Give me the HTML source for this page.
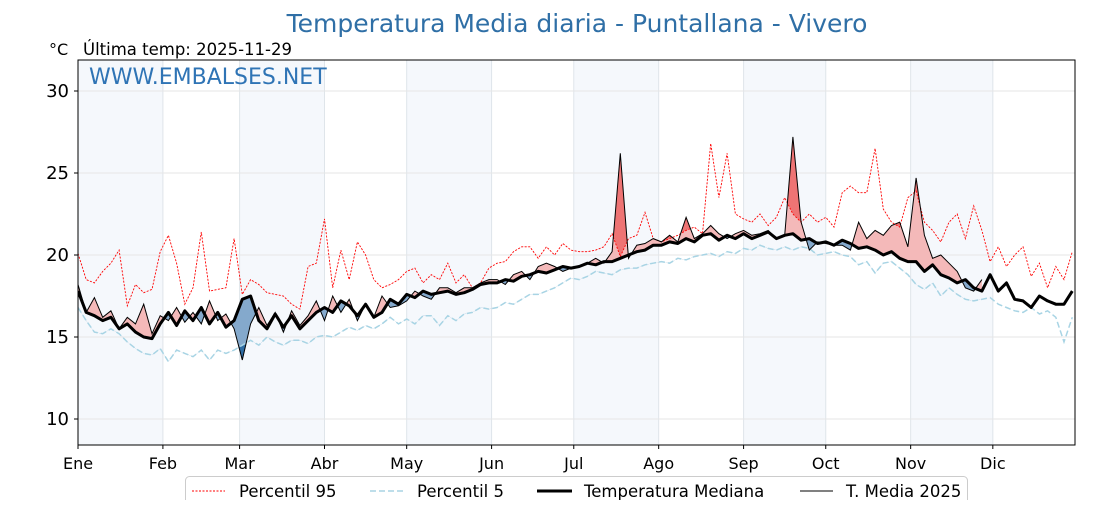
<!DOCTYPE html>
<html><head><meta charset="utf-8"><style>
body{margin:0;background:#fff;width:1120px;height:500px;overflow:hidden;font-family:"Liberation Sans","DejaVu Sans",sans-serif}
svg text{font-family:"DejaVu Sans","Liberation Sans",sans-serif}
</style></head><body>
<svg id="chart" width="1120" height="500" xmlns="http://www.w3.org/2000/svg">
<defs>
<clipPath id="plotClip"><rect x="78" y="60" width="997" height="385"/></clipPath>
<clipPath id="aboveMed"><path id="aboveMedP"/></clipPath>
<clipPath id="belowMed"><path id="belowMedP"/></clipPath>
<clipPath id="aboveP95"><path id="aboveP95P"/></clipPath>
<clipPath id="belowP5"><path id="belowP5P"/></clipPath>
</defs>
<g id="bands"></g>
<g id="grid"></g>
<g id="series" clip-path="url(#plotClip)"></g>
<rect x="78" y="60" width="997" height="385" fill="none" stroke="#000" stroke-width="1"/>
<g id="axes"></g>
<text x="577" y="32" text-anchor="middle" font-size="25" fill="#2f6fa6">Temperatura Media diaria - Puntallana - Vivero</text>
<text x="49" y="55" font-size="16" fill="#000">°C</text>
<text x="83" y="55" font-size="16.5" fill="#000">Última temp: 2025-11-29</text>
<text x="89" y="84" font-size="22" fill="#2f74b5">WWW.EMBALSES.NET</text>
<g>
<rect x="185.5" y="476.5" width="782" height="30" rx="4" fill="#fff" stroke="#ccc"/>
<line x1="192" y1="491" x2="225" y2="491" stroke="red" stroke-width="1" stroke-dasharray="2,1.5"/>
<text x="239" y="497" font-size="16.5">Percentil 95</text>
<line x1="370" y1="491" x2="405" y2="491" stroke="#a8d4e4" stroke-width="1.5" stroke-dasharray="6,3"/>
<text x="417" y="497" font-size="16.5">Percentil 5</text>
<line x1="537" y1="491" x2="572" y2="491" stroke="#000" stroke-width="3"/>
<text x="584" y="497" font-size="16.5">Temperatura Mediana</text>
<line x1="800" y1="491" x2="833" y2="491" stroke="#000" stroke-width="1"/>
<text x="846" y="497" font-size="16.5">T. Media 2025</text>
</g>
</svg>
<script>
const step = 3;
const monthLabels = ["Ene","Feb","Mar","Abr","May","Jun","Jul","Ago","Sep","Oct","Nov","Dic"];
const monthStarts = [0,31,59,90,120,151,181,212,243,273,304,334];
const yTicks = [10,15,20,25,30];
const median = [17.8,16.5,16.3,16.0,16.2,15.5,15.8,15.3,15.0,14.9,15.8,
16.5,15.7,16.6,16.0,16.8,15.8,16.5,15.6,16.0,
17.3,17.5,16.0,15.5,16.4,15.6,16.3,15.5,16.0,16.5,
16.8,16.5,17.2,16.9,16.3,17.0,16.2,16.5,17.3,17.0,
17.6,17.4,17.8,17.6,17.7,17.8,17.6,17.7,17.9,18.2,18.3,
18.3,18.5,18.4,18.7,18.8,19.0,18.9,19.1,19.3,19.2,
19.3,19.5,19.4,19.6,19.6,19.8,20.0,20.2,20.3,20.6,
20.6,20.8,20.7,21.0,20.8,21.2,21.3,20.9,21.2,21.0,
21.3,21.0,21.2,21.4,21.0,21.2,21.3,20.9,21.0,20.7,
20.8,20.6,20.9,20.7,20.4,20.5,20.3,20.0,20.2,19.8,19.6,
19.6,19.0,19.4,18.8,18.6,18.3,18.5,18.0,17.8,18.8,
17.8,18.3,17.3,17.2,16.8,17.5,17.2,17.0,17.0,17.8];
const p95 = [20.1,18.5,18.3,19.0,19.5,20.3,16.9,18.2,17.7,17.9,20.2,
21.2,19.5,17.0,18.0,21.4,17.8,17.9,18.0,21.0,
17.6,18.5,18.2,17.7,17.6,17.5,17.0,16.7,19.3,19.5,
22.2,18.0,20.3,18.5,20.8,20.0,18.5,18.0,18.2,18.5,
19.0,19.2,18.3,18.8,18.5,19.5,18.3,18.8,18.0,18.3,19.2,
19.5,19.6,20.2,20.5,20.5,19.8,20.5,20.0,20.7,20.3,
20.2,20.2,20.3,20.5,21.3,19.9,21.0,21.2,22.6,21.0,
20.8,21.0,21.2,21.5,21.7,21.3,26.8,23.5,26.2,22.5,
22.2,22.0,22.5,21.8,22.3,23.5,22.5,22.0,22.5,22.0,
22.3,21.7,23.8,24.2,23.8,23.8,26.5,22.8,22.0,21.7,23.5,
23.9,22.0,21.5,20.8,22.0,22.5,21.0,23.0,21.5,19.6,
20.5,19.3,20.0,20.5,18.7,19.5,18.0,19.3,18.5,20.2];
const p5 = [16.8,16.0,15.3,15.2,15.5,15.2,14.7,14.3,14.0,13.9,14.3,
13.5,14.2,14.0,13.8,14.2,13.6,14.2,14.0,14.2,
14.5,14.8,14.5,15.0,14.7,14.5,14.8,14.8,14.6,15.0,
15.1,15.0,15.3,15.6,15.4,15.7,15.5,15.8,16.2,15.8,
16.1,15.8,16.3,16.3,15.7,16.3,16.0,16.4,16.5,16.8,16.7,
16.8,17.1,17.0,17.3,17.6,17.6,17.8,18.0,18.3,18.6,
18.5,18.7,19.0,18.9,18.8,19.1,19.2,19.2,19.4,19.5,
19.6,19.5,19.8,19.7,19.9,20.0,20.1,19.9,20.2,20.1,
20.4,20.3,20.6,20.4,20.3,20.5,20.3,20.5,20.4,20.0,
20.1,20.2,20.0,19.9,19.4,19.6,18.9,19.5,19.6,19.2,18.8,
18.2,17.9,18.3,17.5,18.0,17.6,17.3,17.2,17.3,17.4,
17.0,16.8,16.6,16.5,16.8,16.4,16.6,16.2,14.7,16.2];
const t2025 = [18.2,16.5,17.4,16.2,16.6,15.5,16.2,15.8,17.0,15.2,16.3,
16.0,16.8,15.9,16.5,15.8,17.2,16.0,16.4,15.5,
13.6,15.8,16.8,15.7,16.5,15.3,16.6,15.7,16.3,17.2,
16.0,17.5,16.5,17.3,16.0,17.0,16.2,17.5,16.8,16.9,
17.2,17.8,17.5,17.3,18.0,18.0,17.7,18.0,18.0,18.3,18.5,
18.5,18.2,18.8,19.0,18.5,19.3,19.5,19.3,19.0,19.2,
19.3,19.5,19.8,19.5,20.2,26.2,19.8,20.6,20.7,21.0,
20.8,21.2,20.8,22.3,21.0,21.3,21.8,21.3,21.0,21.3,
21.5,21.2,21.3,21.5,21.0,21.2,27.2,22.0,20.3,20.8,
20.7,20.6,20.6,20.3,22.0,21.0,21.5,21.2,21.8,22.0,20.5,
24.7,21.2,19.8,20.0,19.5,19.0,18.0,17.8,18.5];

const NS="http://www.w3.org/2000/svg";
const X0=78, X1=1075, Y0=60, Y1=445;
const xs = d => X0 + d*(X1-X0)/364;
const ys = v => 91 + (30-v)*16.4;
function mk(tag, attrs, parent){const e=document.createElementNS(NS,tag);for(const k in attrs)e.setAttribute(k,attrs[k]);parent.appendChild(e);return e;}
const pts = arr => arr.map((v,i)=>[xs(i*step),ys(v)]);
const lineD = p => p.map((q,i)=>(i?'L':'M')+q[0].toFixed(1)+','+q[1].toFixed(1)).join('');
const bands=document.getElementById('bands'), grid=document.getElementById('grid'), axes=document.getElementById('axes'), ser=document.getElementById('series');
monthStarts.forEach((d,i)=>{
  const end = i<11?monthStarts[i+1]:364;
  if(i%2===0){const r=mk('rect',{x:xs(d),y:Y0,width:xs(end)-xs(d),height:Y1-Y0,fill:'#f5f8fc'},bands);
  
  }
  const g=mk('line',{x1:xs(d),x2:xs(d),y1:Y0,y2:Y1,stroke:'#dfe5ea','stroke-width':1},grid);
  
  
  const tk=mk('line',{x1:xs(d),x2:xs(d),y1:Y1,y2:Y1+4,stroke:'#000'},axes);
  
  
  const t=mk('text',{x:xs(d),y:469,'text-anchor':'middle','font-size':16},axes);
  t.textContent=monthLabels[i];
  
  
});
yTicks.forEach(v=>{
  const g=mk('line',{x1:X0,x2:X1,y1:ys(v),y2:ys(v),stroke:'#e6e6e6'},grid);
  
  
  const tk=mk('line',{x1:X0-4,x2:X0,y1:ys(v),y2:ys(v),stroke:'#000'},axes);
  
  
  const t=mk('text',{x:X0-9,y:ys(v)+6,'text-anchor':'end','font-size':18},axes);
  t.textContent=v;
  
  
});
const pm=pts(median), p95p=pts(p95), p5p=pts(p5), pt=pts(t2025);
const mLine=lineD(pm);
document.getElementById('aboveMedP').setAttribute('d', mLine+`L${X1+5},${pm[pm.length-1][1]}L${X1+5},0L${X0-5},0L${X0-5},${pm[0][1]}Z`);
document.getElementById('belowMedP').setAttribute('d', mLine+`L${X1+5},${pm[pm.length-1][1]}L${X1+5},500L${X0-5},500L${X0-5},${pm[0][1]}Z`);
document.getElementById('aboveP95P').setAttribute('d', lineD(p95p)+`L${X1+5},0L${X0-5},0Z`);
document.getElementById('belowP5P').setAttribute('d', lineD(p5p)+`L${X1+5},500L${X0-5},500Z`);
function between(a,b){const n=a.length;const bb=b.slice(0,n).reverse();return lineD(a)+bb.map(q=>'L'+q[0].toFixed(1)+','+q[1].toFixed(1)).join('')+'Z';}
const fills=[[between(pt,pm),'#f4b9b9','aboveMed','fill-above-median'],[between(pt,pm),'#84a9cc','belowMed','fill-below-median'],
 [between(pt,p95p),'#ee7474','aboveP95','fill-above-p95'],[between(pt,p5p),'#2e6ca3','belowP5','fill-below-p5']];
fills.forEach(f=>{const e=mk('path',{d:f[0],fill:f[1],'clip-path':`url(#${f[2]})`},ser);
  
  });
const l95=mk('path',{d:lineD(p95p),fill:'none',stroke:'red','stroke-width':0.9,'stroke-dasharray':'2,1.5'},ser);


const l5=mk('path',{d:lineD(p5p),fill:'none',stroke:'#a8d4e4','stroke-width':1.5,'stroke-dasharray':'6,3'},ser);


const lm=mk('path',{d:mLine,fill:'none',stroke:'#000','stroke-width':3,'stroke-linejoin':'round'},ser);


const lt=mk('path',{d:lineD(pt),fill:'none',stroke:'#000','stroke-width':1},ser);


</script>
</body></html>
